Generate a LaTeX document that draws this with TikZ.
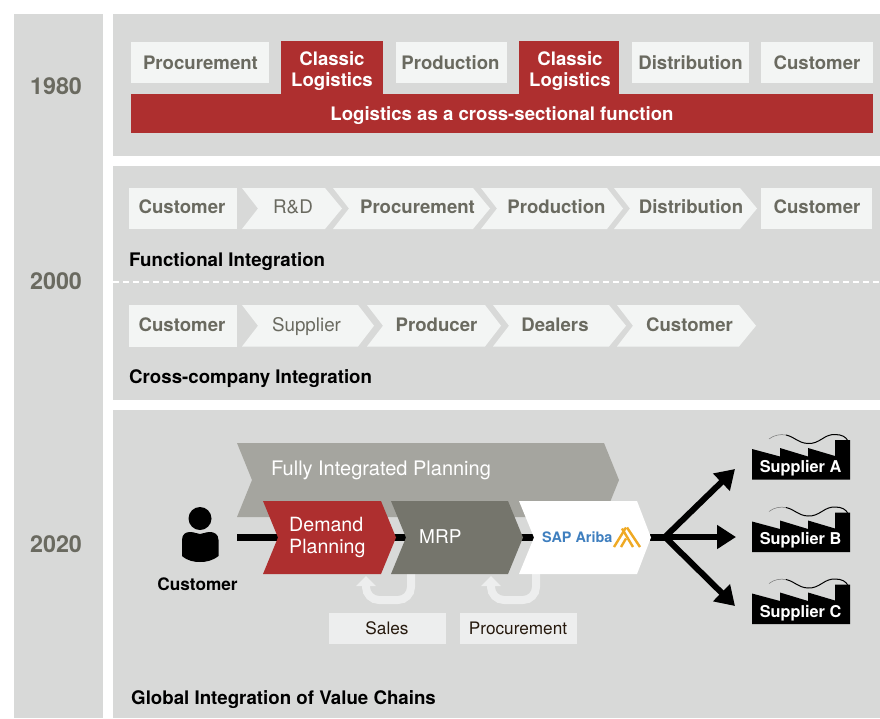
\documentclass[tikz,border=0pt]{standalone}
\usepackage{fontspec}
\setmainfont{TeX Gyre Heros}
\usetikzlibrary{arrows.meta}
\definecolor{panel}{HTML}{D8D9D8}
\definecolor{lite}{HTML}{F3F5F4}
\definecolor{redbar}{HTML}{AE2F2F}
\definecolor{greytxt}{HTML}{6A6A60}
\definecolor{midgrey}{HTML}{A5A59F}
\definecolor{darkgrey}{HTML}{75756C}
\definecolor{ubox}{HTML}{EDEEEE}
\definecolor{sapblue}{HTML}{3F7FBF}
\definecolor{sapamber}{HTML}{EFA923}
\newcommand{\chev}[7]{% fill, xl, notch, xr, tip, ytop, ybot
  \fill[#1] (#2,#6) -- (#4,#6) -- (#5,{(#6+#7)/2}) -- (#4,#7) -- (#2,#7) -- (#3,{(#6+#7)/2}) -- cycle;}
\newcommand{\factory}[1]{% y offset
  \begin{scope}[yshift=#1]
    \fill[black] (752,449) -- (780,456.5) -- (780,448) -- (808,456.5) -- (808,448) -- (835,456) -- (835,440) -- (850,440) -- (850,479.5) -- (752,479.5) -- cycle;
    \draw[black!55,line width=.5pt] (769,439) .. controls (774,435) and (780,434) .. (786,435);
    \draw[black,line width=1pt] (786,435) .. controls (795,437) and (798,443) .. (808,443.5) .. controls (820,444) and (824,434) .. (835,434.5) .. controls (842,434.5) and (846,437) .. (848,441);
  \end{scope}}
\tikzset{
  lab/.style={inner sep=0pt,outer sep=0pt,anchor=center,text depth=0pt,text height=13pt,font=\fontsize{18.6}{21}\selectfont\bfseries,text=greytxt},
  labreg/.style={lab,font=\fontsize{18.8}{21}\selectfont},
  labw/.style={inner sep=0pt,align=center,font=\fontsize{18.6}{21}\selectfont\bfseries,text=white},
  title/.style={inner sep=0pt,anchor=west,text depth=0pt,text height=12pt,font=\fontsize{18.7}{20}\selectfont\bfseries,text=black},
  year/.style={inner sep=0pt,anchor=center,text depth=0pt,text height=16pt,font=\fontsize{23.3}{26}\selectfont\bfseries,text=greytxt},
  chevw/.style={inner sep=0pt,align=left,anchor=west,font=\fontsize{19.6}{22}\selectfont,text=white},
  slab/.style={inner sep=0pt,anchor=center,text depth=0pt,text height=11pt,font=\fontsize{16.3}{18}\selectfont\bfseries,text=white},
  custlab/.style={inner sep=0pt,anchor=center,text depth=0pt,text height=11pt,font=\fontsize{17.2}{18}\selectfont\bfseries,text=black},
  boxlab/.style={inner sep=0pt,anchor=center,text depth=0pt,text height=11.5pt,font=\fontsize{17.2}{19}\selectfont,text=black!80!brown},
  mainline/.style={line width=7pt,black},
  fork/.style={line width=6pt,black,-{Triangle[length=19pt,width=23pt]}},
  uturn/.style={line width=8pt,ubox,rounded corners=13pt,-{Triangle[length=10pt,width=19pt]}}
}
\begin{document}
\begin{tikzpicture}[x=1pt,y=-1pt]
\useasboundingbox (0,0) rectangle (880,718);
\fill[white] (0,0) rectangle (880,718);
% panels
\fill[panel] (14,14) rectangle (103,718);
\fill[panel] (113,14) rectangle (880,156);
\fill[panel] (113,166) rectangle (880,400);
\fill[panel] (113,410) rectangle (880,718);
\node[year] (y1980) at (56,86) {1980};
\node[year] (y2000) at (56,281) {2000};
\node[year] (y2020) at (56,544) {2020};
% 1980
\fill[lite] (131,42) rectangle (269,83);
\fill[redbar] (281,41) rectangle (383,95);
\fill[lite] (396,42) rectangle (507,83);
\fill[redbar] (519,41) rectangle (619,95);
\fill[lite] (632,42) rectangle (749,83);
\fill[lite] (761,42) rectangle (873,83);
\fill[redbar] (131,94) rectangle (873,133);
\node[lab] (a1) at (200.5,62.5) {Procurement};
\node[labw] (a2) at (332,71.5) {Classic\\Logistics};
\node[lab] (a3) at (450.5,62.5) {Production};
\node[labw] (a4) at (570,71.5) {Classic\\Logistics};
\node[lab] (a5) at (690.5,62.5) {Distribution};
\node[lab] (a6) at (817,62.5) {Customer};
\node[labw] (a7) at (502,115.5) {Logistics as a cross-sectional function};
% 2000 functional
\fill[lite] (129,188) rectangle (237,229);
\chev{lite}{242}{258}{325}{342}{188}{229}
\chev{lite}{333}{349}{473}{490}{188}{229}
\chev{lite}{481}{497}{607}{623}{188}{229}
\chev{lite}{614}{630}{740}{757}{188}{229}
\fill[lite] (761,188) rectangle (872,229);
\node[lab] (b1) at (182,207) {Customer};
\node[labreg] (b2) at (293,207) {R\&D};
\node[lab] (b3) at (417.5,207) {Procurement};
\node[lab] (b4) at (556.5,207) {Production};
\node[lab] (b5) at (691,207) {Distribution};
\node[lab] (b6) at (817,207) {Customer};
\node[title] (t1) at (129,260) {Functional Integration};
\draw[white,line width=1.3pt,dash pattern=on 6pt off 4pt] (113,282) -- (880,282);
% 2000 cross-company
\fill[lite] (129,305) rectangle (237,346.5);
\chev{lite}{242}{258}{358}{374}{305}{346.5}
\chev{lite}{367}{383}{485}{501}{305}{346.5}
\chev{lite}{493}{509}{609}{626}{305}{346.5}
\chev{lite}{617}{633}{739}{756}{305}{346.5}
\node[lab] (c1) at (182,325) {Customer};
\node[labreg] (c2) at (306.5,325) {Supplier};
\node[lab] (c3) at (436.5,325) {Producer};
\node[lab] (c4) at (555,325) {Dealers};
\node[lab] (c5) at (689.5,325) {Customer};
\node[title] (t2) at (129,377) {Cross-company Integration};
% 2020
\chev{midgrey}{237}{252}{604}{619}{443}{517}
\node[chevw,font=\fontsize{20}{22}\selectfont] (fip) at (271,470) {Fully Integrated Planning};
% customer icon
\fill[black] (200,518.5) circle (11.5);
\fill[black] (182,540) .. controls (182,534) and (186,532) .. (190,532) .. controls (195,532) and (197,534) .. (200,534) .. controls (203,534) and (205,532) .. (210,532) .. controls (214,532) and (218.5,534) .. (218.5,540) -- (218.5,556) .. controls (212,561) and (206,562) .. (200,562) .. controls (194,562) and (188,561) .. (182,556) -- cycle;
\node[custlab] (cust) at (197.5,584.5) {Customer};
% connectors
\coordinate (lineL) at (237,537);
\coordinate (hub) at (665,537);
\coordinate (tipA) at (735,469);
\coordinate (tipB) at (736,537);
\coordinate (tipC) at (735,606);
\coordinate (uSalesStart) at (411,570);
\coordinate (uSalesTurnR) at (411,600);
\coordinate (uSalesTurnL) at (366,600);
\coordinate (uSalesEnd) at (366,576);
\coordinate (uProcStart) at (536,570);
\coordinate (uProcTurnR) at (536,600);
\coordinate (uProcTurnL) at (491,600);
\coordinate (uProcEnd) at (491,576);
\draw[mainline] (lineL) -- (hub);
\draw[fork] (hub) -- (tipA);
\draw[fork] (hub) -- (tipB);
\draw[fork] (hub) -- (tipC);
\draw[uturn] (uSalesStart) -- (uSalesTurnR) -- (uSalesTurnL) -- (uSalesEnd);
\draw[uturn] (uProcStart) -- (uProcTurnR) -- (uProcTurnL) -- (uProcEnd);
% process chevrons
\chev{redbar}{263}{278}{381}{396}{501}{574}
\chev{darkgrey}{391}{406}{508}{523}{501}{574}
\chev{white}{519}{534}{637}{651}{501}{574}
\node[chevw] (dp) at (289,537.5) {Demand\\Planning};
\node[chevw,font=\fontsize{19}{22}\selectfont] (mrp) at (419,537) {MRP};
\node[inner sep=0pt,anchor=west,text depth=0pt,text height=10pt,font=\fontsize{14.4}{16}\selectfont\bfseries,text=sapblue] (sap) at (542,537) {SAP Ariba};
\draw[sapamber,line width=2.4pt] (614,547) -- (626,527.5);
\draw[sapamber,line width=2.4pt] (627,527.5) -- (640,547);
\draw[sapamber,line width=2.4pt] (621,547) -- (626,538.5);
\draw[sapamber,line width=2.4pt] (633,547) -- (622,528.5);
% boxes
\fill[ubox] (329,613) rectangle (446,644);
\fill[ubox] (460,613) rectangle (577,644);
\node[boxlab] (sales) at (387,628.5) {Sales};
\node[boxlab] (proc) at (518,628.5) {Procurement};
% suppliers
\factory{0pt}
\factory{-72.5pt}
\factory{-144.5pt}
\node[slab] (sa) at (800.5,467) {Supplier A};
\node[slab] (sb) at (800.5,539) {Supplier B};
\node[slab] (sc) at (800.5,612) {Supplier C};
\node[title] (t3) at (131,698) {Global Integration of Value Chains};
\end{tikzpicture}
\end{document}
